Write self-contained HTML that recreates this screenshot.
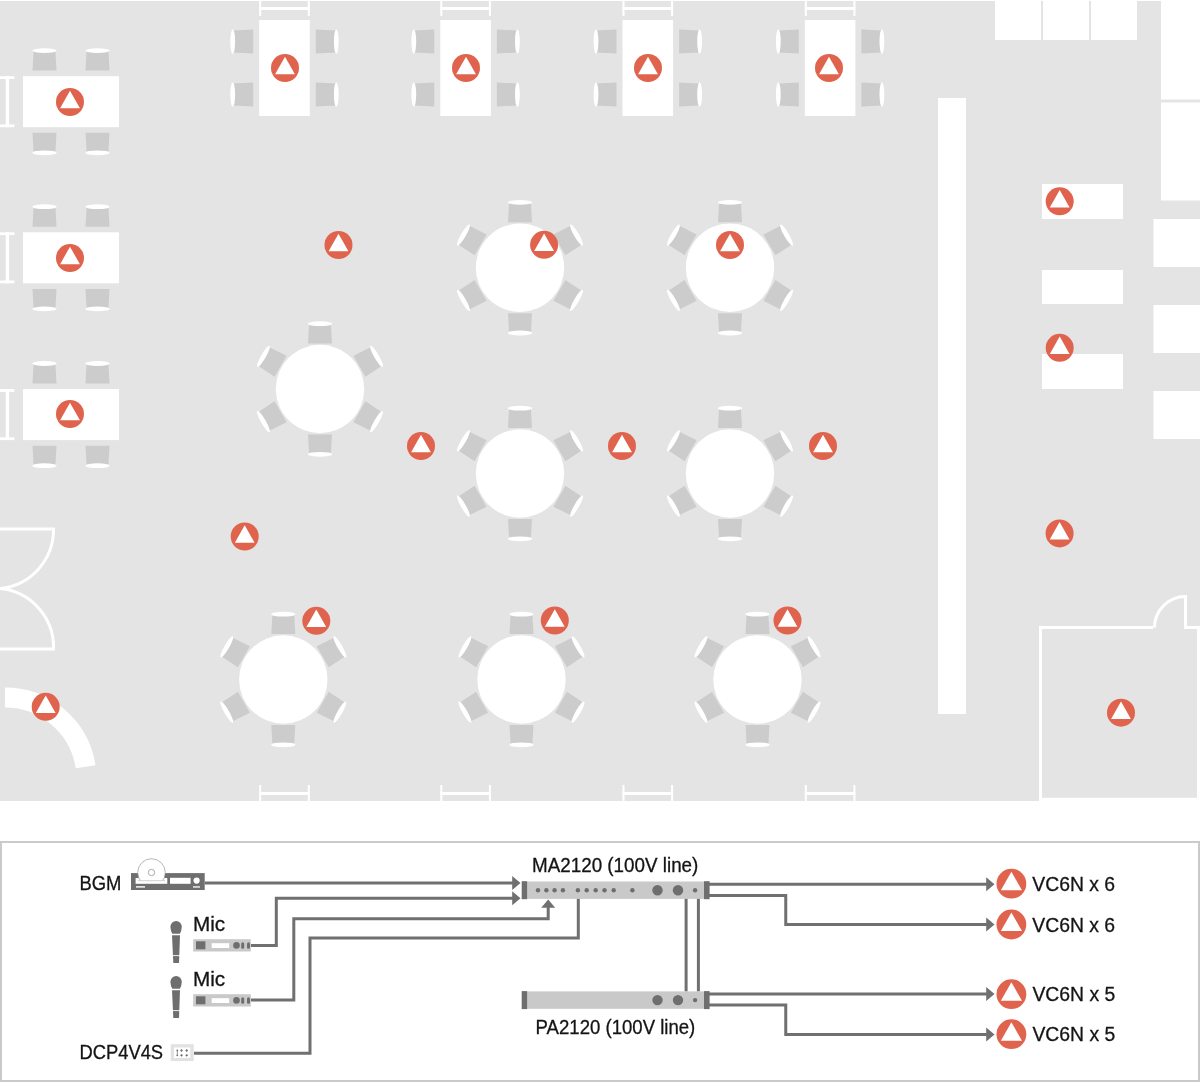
<!DOCTYPE html>
<html><head><meta charset="utf-8"><style>
html,body{margin:0;padding:0;background:#fff;}
svg{display:block;font-family:"Liberation Sans",sans-serif;}
text{will-change:transform;}
</style></head><body>
<svg width="1200" height="1082" viewBox="0 0 1200 1082">
<rect x="0" y="1" width="1200" height="800" fill="#e4e4e4"/>
<rect x="995" y="0" width="46" height="40" fill="#fff"/>
<rect x="1043" y="0" width="46" height="40" fill="#fff"/>
<rect x="1091" y="0" width="46" height="40" fill="#fff"/>
<rect x="1161" y="0" width="39" height="99.5" fill="#fff"/>
<rect x="1161" y="102.5" width="39" height="98" fill="#fff"/>
<rect x="1153.5" y="219" width="46.5" height="48" fill="#fff"/>
<rect x="1153.5" y="305" width="46.5" height="48" fill="#fff"/>
<rect x="1153.5" y="391" width="46.5" height="48" fill="#fff"/>
<rect x="1042" y="184" width="81" height="35" fill="#fff"/>
<rect x="1042" y="270" width="81" height="34" fill="#fff"/>
<rect x="1042" y="354" width="81" height="35" fill="#fff"/>
<rect x="938" y="98" width="28" height="616" fill="#fff"/>
<rect x="1039" y="626" width="3" height="175" fill="#fff"/>
<rect x="1039" y="626" width="114" height="3" fill="#fff"/>
<rect x="1184" y="626" width="16" height="3" fill="#fff"/>
<rect x="1197" y="626" width="3" height="175" fill="#fff"/>
<rect x="1042" y="797.8" width="158" height="3.2" fill="#fff"/>
<path d="M1154.5 627.5A31 31 0 0 1 1185.5 596.5L1185.5 627.5" fill="none" stroke="#fff" stroke-width="3"/>
<path d="M0 529L53.5 529A59 59 0 0 1 0 588.5A59 59 0 0 1 53.5 649L0 649" fill="none" stroke="#fff" stroke-width="3"/>
<path d="M5 697.5A81.5 81.5 0 0 1 85.56 766.67" fill="none" stroke="#fff" stroke-width="20"/>
<g transform="translate(44.5 100.7) rotate(0)"><path d="M-12 -30.1L12 -30.1L10.9 -50.1L-10.9 -50.1Z" fill="#cccccc"/><ellipse cx="0" cy="-50.1" rx="12.2" ry="2.4" fill="#fff"/></g>
<g transform="translate(44.5 100.7) rotate(180)"><path d="M-12 -32.1L12 -32.1L10.9 -52.1L-10.9 -52.1Z" fill="#cccccc"/><ellipse cx="0" cy="-52.1" rx="12.2" ry="2.4" fill="#fff"/></g>
<g transform="translate(97.5 100.7) rotate(0)"><path d="M-12 -30.1L12 -30.1L10.9 -50.1L-10.9 -50.1Z" fill="#cccccc"/><ellipse cx="0" cy="-50.1" rx="12.2" ry="2.4" fill="#fff"/></g>
<g transform="translate(97.5 100.7) rotate(180)"><path d="M-12 -32.1L12 -32.1L10.9 -52.1L-10.9 -52.1Z" fill="#cccccc"/><ellipse cx="0" cy="-52.1" rx="12.2" ry="2.4" fill="#fff"/></g>
<rect x="23" y="76.2" width="96" height="51" fill="#fff"/>
<rect x="0" y="76.2" width="14.4" height="2.8" fill="#fff"/>
<rect x="0" y="124.4" width="14.4" height="2.8" fill="#fff"/>
<rect x="5.7" y="76.2" width="3.4" height="51" fill="#fff"/>
<g transform="translate(44.5 256.8) rotate(0)"><path d="M-12 -30.1L12 -30.1L10.9 -50.1L-10.9 -50.1Z" fill="#cccccc"/><ellipse cx="0" cy="-50.1" rx="12.2" ry="2.4" fill="#fff"/></g>
<g transform="translate(44.5 256.8) rotate(180)"><path d="M-12 -32.1L12 -32.1L10.9 -52.1L-10.9 -52.1Z" fill="#cccccc"/><ellipse cx="0" cy="-52.1" rx="12.2" ry="2.4" fill="#fff"/></g>
<g transform="translate(97.5 256.8) rotate(0)"><path d="M-12 -30.1L12 -30.1L10.9 -50.1L-10.9 -50.1Z" fill="#cccccc"/><ellipse cx="0" cy="-50.1" rx="12.2" ry="2.4" fill="#fff"/></g>
<g transform="translate(97.5 256.8) rotate(180)"><path d="M-12 -32.1L12 -32.1L10.9 -52.1L-10.9 -52.1Z" fill="#cccccc"/><ellipse cx="0" cy="-52.1" rx="12.2" ry="2.4" fill="#fff"/></g>
<rect x="23" y="232.3" width="96" height="51" fill="#fff"/>
<rect x="0" y="232.3" width="14.4" height="2.8" fill="#fff"/>
<rect x="0" y="280.5" width="14.4" height="2.8" fill="#fff"/>
<rect x="5.7" y="232.3" width="3.4" height="51" fill="#fff"/>
<g transform="translate(44.5 413.6) rotate(0)"><path d="M-12 -30.1L12 -30.1L10.9 -50.1L-10.9 -50.1Z" fill="#cccccc"/><ellipse cx="0" cy="-50.1" rx="12.2" ry="2.4" fill="#fff"/></g>
<g transform="translate(44.5 413.6) rotate(180)"><path d="M-12 -32.1L12 -32.1L10.9 -52.1L-10.9 -52.1Z" fill="#cccccc"/><ellipse cx="0" cy="-52.1" rx="12.2" ry="2.4" fill="#fff"/></g>
<g transform="translate(97.5 413.6) rotate(0)"><path d="M-12 -30.1L12 -30.1L10.9 -50.1L-10.9 -50.1Z" fill="#cccccc"/><ellipse cx="0" cy="-50.1" rx="12.2" ry="2.4" fill="#fff"/></g>
<g transform="translate(97.5 413.6) rotate(180)"><path d="M-12 -32.1L12 -32.1L10.9 -52.1L-10.9 -52.1Z" fill="#cccccc"/><ellipse cx="0" cy="-52.1" rx="12.2" ry="2.4" fill="#fff"/></g>
<rect x="23" y="389.1" width="96" height="51" fill="#fff"/>
<rect x="0" y="389.1" width="14.4" height="2.8" fill="#fff"/>
<rect x="0" y="437.3" width="14.4" height="2.8" fill="#fff"/>
<rect x="5.7" y="389.1" width="3.4" height="51" fill="#fff"/>
<rect x="259.2" y="1" width="2" height="15" fill="#fff"/>
<rect x="307.8" y="1" width="2" height="15" fill="#fff"/>
<rect x="259.2" y="7.0" width="50.60000000000002" height="3" fill="#fff"/>
<g transform="translate(284.5 41.5) rotate(270)"><path d="M-12 -31.3L12 -31.3L10.9 -51.8L-10.9 -51.8Z" fill="#cccccc"/><ellipse cx="0" cy="-51.8" rx="12.2" ry="2.4" fill="#fff"/></g>
<g transform="translate(284.5 41.5) rotate(90)"><path d="M-12 -31.3L12 -31.3L10.9 -51.8L-10.9 -51.8Z" fill="#cccccc"/><ellipse cx="0" cy="-51.8" rx="12.2" ry="2.4" fill="#fff"/></g>
<g transform="translate(284.5 94.5) rotate(270)"><path d="M-12 -31.3L12 -31.3L10.9 -51.8L-10.9 -51.8Z" fill="#cccccc"/><ellipse cx="0" cy="-51.8" rx="12.2" ry="2.4" fill="#fff"/></g>
<g transform="translate(284.5 94.5) rotate(90)"><path d="M-12 -31.3L12 -31.3L10.9 -51.8L-10.9 -51.8Z" fill="#cccccc"/><ellipse cx="0" cy="-51.8" rx="12.2" ry="2.4" fill="#fff"/></g>
<rect x="259.2" y="20" width="50.6" height="96" fill="#fff"/>
<rect x="440.3" y="1" width="2" height="15" fill="#fff"/>
<rect x="488.90000000000003" y="1" width="2" height="15" fill="#fff"/>
<rect x="440.3" y="7.0" width="50.60000000000002" height="3" fill="#fff"/>
<g transform="translate(465.6 41.5) rotate(270)"><path d="M-12 -31.3L12 -31.3L10.9 -51.8L-10.9 -51.8Z" fill="#cccccc"/><ellipse cx="0" cy="-51.8" rx="12.2" ry="2.4" fill="#fff"/></g>
<g transform="translate(465.6 41.5) rotate(90)"><path d="M-12 -31.3L12 -31.3L10.9 -51.8L-10.9 -51.8Z" fill="#cccccc"/><ellipse cx="0" cy="-51.8" rx="12.2" ry="2.4" fill="#fff"/></g>
<g transform="translate(465.6 94.5) rotate(270)"><path d="M-12 -31.3L12 -31.3L10.9 -51.8L-10.9 -51.8Z" fill="#cccccc"/><ellipse cx="0" cy="-51.8" rx="12.2" ry="2.4" fill="#fff"/></g>
<g transform="translate(465.6 94.5) rotate(90)"><path d="M-12 -31.3L12 -31.3L10.9 -51.8L-10.9 -51.8Z" fill="#cccccc"/><ellipse cx="0" cy="-51.8" rx="12.2" ry="2.4" fill="#fff"/></g>
<rect x="440.3" y="20" width="50.6" height="96" fill="#fff"/>
<rect x="622.5" y="1" width="2" height="15" fill="#fff"/>
<rect x="671.1" y="1" width="2" height="15" fill="#fff"/>
<rect x="622.5" y="7.0" width="50.60000000000002" height="3" fill="#fff"/>
<g transform="translate(647.8 41.5) rotate(270)"><path d="M-12 -31.3L12 -31.3L10.9 -51.8L-10.9 -51.8Z" fill="#cccccc"/><ellipse cx="0" cy="-51.8" rx="12.2" ry="2.4" fill="#fff"/></g>
<g transform="translate(647.8 41.5) rotate(90)"><path d="M-12 -31.3L12 -31.3L10.9 -51.8L-10.9 -51.8Z" fill="#cccccc"/><ellipse cx="0" cy="-51.8" rx="12.2" ry="2.4" fill="#fff"/></g>
<g transform="translate(647.8 94.5) rotate(270)"><path d="M-12 -31.3L12 -31.3L10.9 -51.8L-10.9 -51.8Z" fill="#cccccc"/><ellipse cx="0" cy="-51.8" rx="12.2" ry="2.4" fill="#fff"/></g>
<g transform="translate(647.8 94.5) rotate(90)"><path d="M-12 -31.3L12 -31.3L10.9 -51.8L-10.9 -51.8Z" fill="#cccccc"/><ellipse cx="0" cy="-51.8" rx="12.2" ry="2.4" fill="#fff"/></g>
<rect x="622.5" y="20" width="50.6" height="96" fill="#fff"/>
<rect x="804.8" y="1" width="2" height="15" fill="#fff"/>
<rect x="853.4" y="1" width="2" height="15" fill="#fff"/>
<rect x="804.8" y="7.0" width="50.60000000000002" height="3" fill="#fff"/>
<g transform="translate(830.0999999999999 41.5) rotate(270)"><path d="M-12 -31.3L12 -31.3L10.9 -51.8L-10.9 -51.8Z" fill="#cccccc"/><ellipse cx="0" cy="-51.8" rx="12.2" ry="2.4" fill="#fff"/></g>
<g transform="translate(830.0999999999999 41.5) rotate(90)"><path d="M-12 -31.3L12 -31.3L10.9 -51.8L-10.9 -51.8Z" fill="#cccccc"/><ellipse cx="0" cy="-51.8" rx="12.2" ry="2.4" fill="#fff"/></g>
<g transform="translate(830.0999999999999 94.5) rotate(270)"><path d="M-12 -31.3L12 -31.3L10.9 -51.8L-10.9 -51.8Z" fill="#cccccc"/><ellipse cx="0" cy="-51.8" rx="12.2" ry="2.4" fill="#fff"/></g>
<g transform="translate(830.0999999999999 94.5) rotate(90)"><path d="M-12 -31.3L12 -31.3L10.9 -51.8L-10.9 -51.8Z" fill="#cccccc"/><ellipse cx="0" cy="-51.8" rx="12.2" ry="2.4" fill="#fff"/></g>
<rect x="804.8" y="20" width="50.6" height="96" fill="#fff"/>
<rect x="259.2" y="785" width="2" height="16" fill="#fff"/>
<rect x="307.8" y="785" width="2" height="16" fill="#fff"/>
<rect x="259.2" y="792.0" width="50.60000000000002" height="3" fill="#fff"/>
<rect x="440.3" y="785" width="2" height="16" fill="#fff"/>
<rect x="488.90000000000003" y="785" width="2" height="16" fill="#fff"/>
<rect x="440.3" y="792.0" width="50.60000000000002" height="3" fill="#fff"/>
<rect x="622.5" y="785" width="2" height="16" fill="#fff"/>
<rect x="671.1" y="785" width="2" height="16" fill="#fff"/>
<rect x="622.5" y="792.0" width="50.60000000000002" height="3" fill="#fff"/>
<rect x="804.8" y="785" width="2" height="16" fill="#fff"/>
<rect x="853.4" y="785" width="2" height="16" fill="#fff"/>
<rect x="804.8" y="792.0" width="50.60000000000002" height="3" fill="#fff"/>
<g transform="translate(520 267.7) rotate(0)"><path d="M-12 -45.5L12 -45.5L10.9 -65.3L-10.9 -65.3Z" fill="#cccccc"/><ellipse cx="0" cy="-65.3" rx="12.2" ry="2.4" fill="#fff"/></g>
<g transform="translate(520 267.7) rotate(60)"><path d="M-12 -45.5L12 -45.5L10.9 -65.3L-10.9 -65.3Z" fill="#cccccc"/><ellipse cx="0" cy="-65.3" rx="12.2" ry="2.4" fill="#fff"/></g>
<g transform="translate(520 267.7) rotate(120)"><path d="M-12 -45.5L12 -45.5L10.9 -65.3L-10.9 -65.3Z" fill="#cccccc"/><ellipse cx="0" cy="-65.3" rx="12.2" ry="2.4" fill="#fff"/></g>
<g transform="translate(520 267.7) rotate(180)"><path d="M-12 -45.5L12 -45.5L10.9 -65.3L-10.9 -65.3Z" fill="#cccccc"/><ellipse cx="0" cy="-65.3" rx="12.2" ry="2.4" fill="#fff"/></g>
<g transform="translate(520 267.7) rotate(240)"><path d="M-12 -45.5L12 -45.5L10.9 -65.3L-10.9 -65.3Z" fill="#cccccc"/><ellipse cx="0" cy="-65.3" rx="12.2" ry="2.4" fill="#fff"/></g>
<g transform="translate(520 267.7) rotate(300)"><path d="M-12 -45.5L12 -45.5L10.9 -65.3L-10.9 -65.3Z" fill="#cccccc"/><ellipse cx="0" cy="-65.3" rx="12.2" ry="2.4" fill="#fff"/></g>
<circle cx="520" cy="267.7" r="44.2" fill="#fff"/>
<g transform="translate(730 267.7) rotate(0)"><path d="M-12 -45.5L12 -45.5L10.9 -65.3L-10.9 -65.3Z" fill="#cccccc"/><ellipse cx="0" cy="-65.3" rx="12.2" ry="2.4" fill="#fff"/></g>
<g transform="translate(730 267.7) rotate(60)"><path d="M-12 -45.5L12 -45.5L10.9 -65.3L-10.9 -65.3Z" fill="#cccccc"/><ellipse cx="0" cy="-65.3" rx="12.2" ry="2.4" fill="#fff"/></g>
<g transform="translate(730 267.7) rotate(120)"><path d="M-12 -45.5L12 -45.5L10.9 -65.3L-10.9 -65.3Z" fill="#cccccc"/><ellipse cx="0" cy="-65.3" rx="12.2" ry="2.4" fill="#fff"/></g>
<g transform="translate(730 267.7) rotate(180)"><path d="M-12 -45.5L12 -45.5L10.9 -65.3L-10.9 -65.3Z" fill="#cccccc"/><ellipse cx="0" cy="-65.3" rx="12.2" ry="2.4" fill="#fff"/></g>
<g transform="translate(730 267.7) rotate(240)"><path d="M-12 -45.5L12 -45.5L10.9 -65.3L-10.9 -65.3Z" fill="#cccccc"/><ellipse cx="0" cy="-65.3" rx="12.2" ry="2.4" fill="#fff"/></g>
<g transform="translate(730 267.7) rotate(300)"><path d="M-12 -45.5L12 -45.5L10.9 -65.3L-10.9 -65.3Z" fill="#cccccc"/><ellipse cx="0" cy="-65.3" rx="12.2" ry="2.4" fill="#fff"/></g>
<circle cx="730" cy="267.7" r="44.2" fill="#fff"/>
<g transform="translate(320 389) rotate(0)"><path d="M-12 -45.5L12 -45.5L10.9 -65.3L-10.9 -65.3Z" fill="#cccccc"/><ellipse cx="0" cy="-65.3" rx="12.2" ry="2.4" fill="#fff"/></g>
<g transform="translate(320 389) rotate(60)"><path d="M-12 -45.5L12 -45.5L10.9 -65.3L-10.9 -65.3Z" fill="#cccccc"/><ellipse cx="0" cy="-65.3" rx="12.2" ry="2.4" fill="#fff"/></g>
<g transform="translate(320 389) rotate(120)"><path d="M-12 -45.5L12 -45.5L10.9 -65.3L-10.9 -65.3Z" fill="#cccccc"/><ellipse cx="0" cy="-65.3" rx="12.2" ry="2.4" fill="#fff"/></g>
<g transform="translate(320 389) rotate(180)"><path d="M-12 -45.5L12 -45.5L10.9 -65.3L-10.9 -65.3Z" fill="#cccccc"/><ellipse cx="0" cy="-65.3" rx="12.2" ry="2.4" fill="#fff"/></g>
<g transform="translate(320 389) rotate(240)"><path d="M-12 -45.5L12 -45.5L10.9 -65.3L-10.9 -65.3Z" fill="#cccccc"/><ellipse cx="0" cy="-65.3" rx="12.2" ry="2.4" fill="#fff"/></g>
<g transform="translate(320 389) rotate(300)"><path d="M-12 -45.5L12 -45.5L10.9 -65.3L-10.9 -65.3Z" fill="#cccccc"/><ellipse cx="0" cy="-65.3" rx="12.2" ry="2.4" fill="#fff"/></g>
<circle cx="320" cy="389" r="44.2" fill="#fff"/>
<g transform="translate(520 473.5) rotate(0)"><path d="M-12 -45.5L12 -45.5L10.9 -65.3L-10.9 -65.3Z" fill="#cccccc"/><ellipse cx="0" cy="-65.3" rx="12.2" ry="2.4" fill="#fff"/></g>
<g transform="translate(520 473.5) rotate(60)"><path d="M-12 -45.5L12 -45.5L10.9 -65.3L-10.9 -65.3Z" fill="#cccccc"/><ellipse cx="0" cy="-65.3" rx="12.2" ry="2.4" fill="#fff"/></g>
<g transform="translate(520 473.5) rotate(120)"><path d="M-12 -45.5L12 -45.5L10.9 -65.3L-10.9 -65.3Z" fill="#cccccc"/><ellipse cx="0" cy="-65.3" rx="12.2" ry="2.4" fill="#fff"/></g>
<g transform="translate(520 473.5) rotate(180)"><path d="M-12 -45.5L12 -45.5L10.9 -65.3L-10.9 -65.3Z" fill="#cccccc"/><ellipse cx="0" cy="-65.3" rx="12.2" ry="2.4" fill="#fff"/></g>
<g transform="translate(520 473.5) rotate(240)"><path d="M-12 -45.5L12 -45.5L10.9 -65.3L-10.9 -65.3Z" fill="#cccccc"/><ellipse cx="0" cy="-65.3" rx="12.2" ry="2.4" fill="#fff"/></g>
<g transform="translate(520 473.5) rotate(300)"><path d="M-12 -45.5L12 -45.5L10.9 -65.3L-10.9 -65.3Z" fill="#cccccc"/><ellipse cx="0" cy="-65.3" rx="12.2" ry="2.4" fill="#fff"/></g>
<circle cx="520" cy="473.5" r="44.2" fill="#fff"/>
<g transform="translate(730 473.5) rotate(0)"><path d="M-12 -45.5L12 -45.5L10.9 -65.3L-10.9 -65.3Z" fill="#cccccc"/><ellipse cx="0" cy="-65.3" rx="12.2" ry="2.4" fill="#fff"/></g>
<g transform="translate(730 473.5) rotate(60)"><path d="M-12 -45.5L12 -45.5L10.9 -65.3L-10.9 -65.3Z" fill="#cccccc"/><ellipse cx="0" cy="-65.3" rx="12.2" ry="2.4" fill="#fff"/></g>
<g transform="translate(730 473.5) rotate(120)"><path d="M-12 -45.5L12 -45.5L10.9 -65.3L-10.9 -65.3Z" fill="#cccccc"/><ellipse cx="0" cy="-65.3" rx="12.2" ry="2.4" fill="#fff"/></g>
<g transform="translate(730 473.5) rotate(180)"><path d="M-12 -45.5L12 -45.5L10.9 -65.3L-10.9 -65.3Z" fill="#cccccc"/><ellipse cx="0" cy="-65.3" rx="12.2" ry="2.4" fill="#fff"/></g>
<g transform="translate(730 473.5) rotate(240)"><path d="M-12 -45.5L12 -45.5L10.9 -65.3L-10.9 -65.3Z" fill="#cccccc"/><ellipse cx="0" cy="-65.3" rx="12.2" ry="2.4" fill="#fff"/></g>
<g transform="translate(730 473.5) rotate(300)"><path d="M-12 -45.5L12 -45.5L10.9 -65.3L-10.9 -65.3Z" fill="#cccccc"/><ellipse cx="0" cy="-65.3" rx="12.2" ry="2.4" fill="#fff"/></g>
<circle cx="730" cy="473.5" r="44.2" fill="#fff"/>
<g transform="translate(283.3 679.5) rotate(0)"><path d="M-12 -45.5L12 -45.5L10.9 -65.3L-10.9 -65.3Z" fill="#cccccc"/><ellipse cx="0" cy="-65.3" rx="12.2" ry="2.4" fill="#fff"/></g>
<g transform="translate(283.3 679.5) rotate(60)"><path d="M-12 -45.5L12 -45.5L10.9 -65.3L-10.9 -65.3Z" fill="#cccccc"/><ellipse cx="0" cy="-65.3" rx="12.2" ry="2.4" fill="#fff"/></g>
<g transform="translate(283.3 679.5) rotate(120)"><path d="M-12 -45.5L12 -45.5L10.9 -65.3L-10.9 -65.3Z" fill="#cccccc"/><ellipse cx="0" cy="-65.3" rx="12.2" ry="2.4" fill="#fff"/></g>
<g transform="translate(283.3 679.5) rotate(180)"><path d="M-12 -45.5L12 -45.5L10.9 -65.3L-10.9 -65.3Z" fill="#cccccc"/><ellipse cx="0" cy="-65.3" rx="12.2" ry="2.4" fill="#fff"/></g>
<g transform="translate(283.3 679.5) rotate(240)"><path d="M-12 -45.5L12 -45.5L10.9 -65.3L-10.9 -65.3Z" fill="#cccccc"/><ellipse cx="0" cy="-65.3" rx="12.2" ry="2.4" fill="#fff"/></g>
<g transform="translate(283.3 679.5) rotate(300)"><path d="M-12 -45.5L12 -45.5L10.9 -65.3L-10.9 -65.3Z" fill="#cccccc"/><ellipse cx="0" cy="-65.3" rx="12.2" ry="2.4" fill="#fff"/></g>
<circle cx="283.3" cy="679.5" r="44.2" fill="#fff"/>
<g transform="translate(521.5 679.5) rotate(0)"><path d="M-12 -45.5L12 -45.5L10.9 -65.3L-10.9 -65.3Z" fill="#cccccc"/><ellipse cx="0" cy="-65.3" rx="12.2" ry="2.4" fill="#fff"/></g>
<g transform="translate(521.5 679.5) rotate(60)"><path d="M-12 -45.5L12 -45.5L10.9 -65.3L-10.9 -65.3Z" fill="#cccccc"/><ellipse cx="0" cy="-65.3" rx="12.2" ry="2.4" fill="#fff"/></g>
<g transform="translate(521.5 679.5) rotate(120)"><path d="M-12 -45.5L12 -45.5L10.9 -65.3L-10.9 -65.3Z" fill="#cccccc"/><ellipse cx="0" cy="-65.3" rx="12.2" ry="2.4" fill="#fff"/></g>
<g transform="translate(521.5 679.5) rotate(180)"><path d="M-12 -45.5L12 -45.5L10.9 -65.3L-10.9 -65.3Z" fill="#cccccc"/><ellipse cx="0" cy="-65.3" rx="12.2" ry="2.4" fill="#fff"/></g>
<g transform="translate(521.5 679.5) rotate(240)"><path d="M-12 -45.5L12 -45.5L10.9 -65.3L-10.9 -65.3Z" fill="#cccccc"/><ellipse cx="0" cy="-65.3" rx="12.2" ry="2.4" fill="#fff"/></g>
<g transform="translate(521.5 679.5) rotate(300)"><path d="M-12 -45.5L12 -45.5L10.9 -65.3L-10.9 -65.3Z" fill="#cccccc"/><ellipse cx="0" cy="-65.3" rx="12.2" ry="2.4" fill="#fff"/></g>
<circle cx="521.5" cy="679.5" r="44.2" fill="#fff"/>
<g transform="translate(757.5 679.5) rotate(0)"><path d="M-12 -45.5L12 -45.5L10.9 -65.3L-10.9 -65.3Z" fill="#cccccc"/><ellipse cx="0" cy="-65.3" rx="12.2" ry="2.4" fill="#fff"/></g>
<g transform="translate(757.5 679.5) rotate(60)"><path d="M-12 -45.5L12 -45.5L10.9 -65.3L-10.9 -65.3Z" fill="#cccccc"/><ellipse cx="0" cy="-65.3" rx="12.2" ry="2.4" fill="#fff"/></g>
<g transform="translate(757.5 679.5) rotate(120)"><path d="M-12 -45.5L12 -45.5L10.9 -65.3L-10.9 -65.3Z" fill="#cccccc"/><ellipse cx="0" cy="-65.3" rx="12.2" ry="2.4" fill="#fff"/></g>
<g transform="translate(757.5 679.5) rotate(180)"><path d="M-12 -45.5L12 -45.5L10.9 -65.3L-10.9 -65.3Z" fill="#cccccc"/><ellipse cx="0" cy="-65.3" rx="12.2" ry="2.4" fill="#fff"/></g>
<g transform="translate(757.5 679.5) rotate(240)"><path d="M-12 -45.5L12 -45.5L10.9 -65.3L-10.9 -65.3Z" fill="#cccccc"/><ellipse cx="0" cy="-65.3" rx="12.2" ry="2.4" fill="#fff"/></g>
<g transform="translate(757.5 679.5) rotate(300)"><path d="M-12 -45.5L12 -45.5L10.9 -65.3L-10.9 -65.3Z" fill="#cccccc"/><ellipse cx="0" cy="-65.3" rx="12.2" ry="2.4" fill="#fff"/></g>
<circle cx="757.5" cy="679.5" r="44.2" fill="#fff"/>
<circle cx="70" cy="102" r="14" fill="#e0634d"/>
<path d="M70.00 90.70L79.90 108.20L60.10 108.20Z" fill="#fff"/>
<circle cx="70" cy="258" r="14" fill="#e0634d"/>
<path d="M70.00 246.70L79.90 264.20L60.10 264.20Z" fill="#fff"/>
<circle cx="70" cy="414" r="14" fill="#e0634d"/>
<path d="M70.00 402.70L79.90 420.20L60.10 420.20Z" fill="#fff"/>
<circle cx="285" cy="68" r="14" fill="#e0634d"/>
<path d="M285.00 56.70L294.90 74.20L275.10 74.20Z" fill="#fff"/>
<circle cx="466" cy="68" r="14" fill="#e0634d"/>
<path d="M466.00 56.70L475.90 74.20L456.10 74.20Z" fill="#fff"/>
<circle cx="648" cy="68" r="14" fill="#e0634d"/>
<path d="M648.00 56.70L657.90 74.20L638.10 74.20Z" fill="#fff"/>
<circle cx="829" cy="68" r="14" fill="#e0634d"/>
<path d="M829.00 56.70L838.90 74.20L819.10 74.20Z" fill="#fff"/>
<circle cx="338.5" cy="245" r="14" fill="#e0634d"/>
<path d="M338.50 233.70L348.40 251.20L328.60 251.20Z" fill="#fff"/>
<circle cx="544.1" cy="244.8" r="14" fill="#e0634d"/>
<path d="M544.10 233.50L554.00 251.00L534.20 251.00Z" fill="#fff"/>
<circle cx="730" cy="245" r="14" fill="#e0634d"/>
<path d="M730.00 233.70L739.90 251.20L720.10 251.20Z" fill="#fff"/>
<circle cx="421" cy="446" r="14" fill="#e0634d"/>
<path d="M421.00 434.70L430.90 452.20L411.10 452.20Z" fill="#fff"/>
<circle cx="622" cy="446" r="14" fill="#e0634d"/>
<path d="M622.00 434.70L631.90 452.20L612.10 452.20Z" fill="#fff"/>
<circle cx="823" cy="446" r="14" fill="#e0634d"/>
<path d="M823.00 434.70L832.90 452.20L813.10 452.20Z" fill="#fff"/>
<circle cx="244.7" cy="536.5" r="14" fill="#e0634d"/>
<path d="M244.70 525.20L254.60 542.70L234.80 542.70Z" fill="#fff"/>
<circle cx="316.3" cy="620.8" r="14" fill="#e0634d"/>
<path d="M316.30 609.50L326.20 627.00L306.40 627.00Z" fill="#fff"/>
<circle cx="554.8" cy="620.5" r="14" fill="#e0634d"/>
<path d="M554.80 609.20L564.70 626.70L544.90 626.70Z" fill="#fff"/>
<circle cx="787.5" cy="620.5" r="14" fill="#e0634d"/>
<path d="M787.50 609.20L797.40 626.70L777.60 626.70Z" fill="#fff"/>
<circle cx="45.7" cy="706.8" r="14" fill="#e0634d"/>
<path d="M45.70 695.50L55.60 713.00L35.80 713.00Z" fill="#fff"/>
<circle cx="1059.7" cy="201.3" r="14" fill="#e0634d"/>
<path d="M1059.70 190.00L1069.60 207.50L1049.80 207.50Z" fill="#fff"/>
<circle cx="1059.7" cy="347.8" r="14" fill="#e0634d"/>
<path d="M1059.70 336.50L1069.60 354.00L1049.80 354.00Z" fill="#fff"/>
<circle cx="1059.6" cy="533.4" r="14" fill="#e0634d"/>
<path d="M1059.60 522.10L1069.50 539.60L1049.70 539.60Z" fill="#fff"/>
<circle cx="1121" cy="712.7" r="14" fill="#e0634d"/>
<path d="M1121.00 701.40L1130.90 718.90L1111.10 718.90Z" fill="#fff"/>
<rect x="1" y="842" width="1198" height="239" fill="none" stroke="#cacaca" stroke-width="2"/>
<text x="79.511" y="889.9" font-size="20" textLength="41.954" lengthAdjust="spacingAndGlyphs" fill="#141414" stroke="#141414" stroke-width="0.3">BGM</text>
<text x="193.03" y="930.8" font-size="20" textLength="32.219" lengthAdjust="spacingAndGlyphs" fill="#141414" stroke="#141414" stroke-width="0.3">Mic</text>
<text x="193.03" y="985.8" font-size="20" textLength="32.219" lengthAdjust="spacingAndGlyphs" fill="#141414" stroke="#141414" stroke-width="0.3">Mic</text>
<text x="79.473" y="1058.5" font-size="20" textLength="83.631" lengthAdjust="spacingAndGlyphs" fill="#141414" stroke="#141414" stroke-width="0.3">DCP4V4S</text>
<text x="532.062" y="871.8" font-size="20" textLength="166.289" lengthAdjust="spacingAndGlyphs" fill="#141414" stroke="#141414" stroke-width="0.3">MA2120 (100V line)</text>
<text x="535.596" y="1033.8" font-size="20" textLength="159.686" lengthAdjust="spacingAndGlyphs" fill="#141414" stroke="#141414" stroke-width="0.3">PA2120 (100V line)</text>
<text x="1032.305" y="890.7" font-size="20" textLength="82.844" lengthAdjust="spacingAndGlyphs" fill="#141414" stroke="#141414" stroke-width="0.3">VC6N x 6</text>
<text x="1032.305" y="931.5" font-size="20" textLength="82.844" lengthAdjust="spacingAndGlyphs" fill="#141414" stroke="#141414" stroke-width="0.3">VC6N x 6</text>
<text x="1032.394" y="1000.9" font-size="20" textLength="82.908" lengthAdjust="spacingAndGlyphs" fill="#141414" stroke="#141414" stroke-width="0.3">VC6N x 5</text>
<text x="1032.394" y="1040.8" font-size="20" textLength="82.908" lengthAdjust="spacingAndGlyphs" fill="#141414" stroke="#141414" stroke-width="0.3">VC6N x 5</text>
<path d="M204.7 882.9L514 882.9" fill="none" stroke="#707070" stroke-width="3" stroke-linejoin="miter"/>
<path d="M520.5 882.9L512.2 875.9L512.2 889.9Z" fill="#707070"/>
<path d="M250.8 945.4L276.3 945.4L276.3 898.2L514 898.2" fill="none" stroke="#707070" stroke-width="3" stroke-linejoin="miter"/>
<path d="M520.5 898.2L512.2 891.2L512.2 905.2Z" fill="#707070"/>
<path d="M250.8 1000L293.8 1000L293.8 918.8L548.2 918.8L548.2 907" fill="none" stroke="#707070" stroke-width="3" stroke-linejoin="miter"/>
<path d="M548.2 899.5L541.2 907.8L555.2 907.8Z" fill="#707070"/>
<path d="M194 1053.2L310 1053.2L310 938L578.3 938L578.3 898" fill="none" stroke="#707070" stroke-width="3" stroke-linejoin="miter"/>
<path d="M686.1 898L686.1 991.5" fill="none" stroke="#707070" stroke-width="3" stroke-linejoin="miter"/>
<path d="M698.4 898L698.4 991.5" fill="none" stroke="#707070" stroke-width="3" stroke-linejoin="miter"/>
<path d="M709 884.3L988 884.3" fill="none" stroke="#707070" stroke-width="3" stroke-linejoin="miter"/>
<path d="M994.5 884.3L986.2 877.3L986.2 891.3Z" fill="#707070"/>
<path d="M709 895.5L785.75 895.5L785.75 924.4L988 924.4" fill="none" stroke="#707070" stroke-width="3" stroke-linejoin="miter"/>
<path d="M994.5 924.4L986.2 917.4L986.2 931.4Z" fill="#707070"/>
<path d="M709 994.1L988 994.1" fill="none" stroke="#707070" stroke-width="3" stroke-linejoin="miter"/>
<path d="M994.5 994.1L986.2 987.1L986.2 1001.1Z" fill="#707070"/>
<path d="M709 1005L785.75 1005L785.75 1034.4L988 1034.4" fill="none" stroke="#707070" stroke-width="3" stroke-linejoin="miter"/>
<path d="M994.5 1034.4L986.2 1027.4L986.2 1041.4Z" fill="#707070"/>
<circle cx="1011.4" cy="883.7" r="14.9" fill="#e0634d"/>
<path d="M1011.40 871.67L1021.94 890.30L1000.86 890.30Z" fill="#fff"/>
<circle cx="1011.4" cy="924.5" r="14.9" fill="#e0634d"/>
<path d="M1011.40 912.47L1021.94 931.10L1000.86 931.10Z" fill="#fff"/>
<circle cx="1011.4" cy="994.2" r="14.9" fill="#e0634d"/>
<path d="M1011.40 982.17L1021.94 1000.80L1000.86 1000.80Z" fill="#fff"/>
<circle cx="1011.4" cy="1034.2" r="14.9" fill="#e0634d"/>
<path d="M1011.40 1022.17L1021.94 1040.80L1000.86 1040.80Z" fill="#fff"/>
<rect x="527" y="881.5" width="177" height="17.4" fill="#c9c9c9"/>
<rect x="521.7" y="881.2" width="5.4" height="18" fill="#6e6e6e"/>
<rect x="704" y="881.2" width="5.6" height="18" fill="#6e6e6e"/>
<circle cx="538" cy="890.2" r="2.2" fill="#6e6e6e"/>
<circle cx="546.4" cy="890.2" r="2.2" fill="#6e6e6e"/>
<circle cx="554.6" cy="890.2" r="2.2" fill="#6e6e6e"/>
<circle cx="562.9" cy="890.2" r="2.2" fill="#6e6e6e"/>
<circle cx="577.9" cy="890.2" r="2.2" fill="#6e6e6e"/>
<circle cx="586.7" cy="890.2" r="2.2" fill="#6e6e6e"/>
<circle cx="595.7" cy="890.2" r="2.2" fill="#6e6e6e"/>
<circle cx="604.5" cy="890.2" r="2.2" fill="#6e6e6e"/>
<circle cx="613.7" cy="890.2" r="2.2" fill="#6e6e6e"/>
<circle cx="632.4" cy="890.2" r="2.2" fill="#6e6e6e"/>
<circle cx="657.5" cy="890.2" r="5.2" fill="#6e6e6e"/>
<circle cx="678" cy="890.2" r="5.2" fill="#6e6e6e"/>
<circle cx="695.1" cy="890.2" r="2.2" fill="#6e6e6e"/>
<rect x="527" y="991.4" width="177" height="17.4" fill="#c9c9c9"/>
<rect x="521.7" y="991.1" width="5.4" height="18" fill="#6e6e6e"/>
<rect x="704" y="991.1" width="5.6" height="18" fill="#6e6e6e"/>
<circle cx="657.5" cy="1000.1" r="5.2" fill="#6e6e6e"/>
<circle cx="678" cy="1000.1" r="5.2" fill="#6e6e6e"/>
<circle cx="695.1" cy="1000.1" r="2.2" fill="#6e6e6e"/>
<rect x="131" y="873.1" width="73.7" height="16.9" fill="#6e6e6e"/>
<rect x="135.6" y="878" width="31.7" height="5.8" fill="#fff"/>
<rect x="170" y="877.8" width="20.6" height="6" fill="#fff"/>
<circle cx="196.6" cy="880.6" r="3.1" fill="#fff"/>
<rect x="136" y="886.2" width="9" height="1.4" fill="#fff"/>
<rect x="193" y="886.3" width="7" height="1.3" fill="#fff"/>
<clipPath id="cdc"><rect x="120" y="850" width="60" height="30.8"/></clipPath>
<g clip-path="url(#cdc)"><circle cx="151.5" cy="872.5" r="13.8" fill="#fff" stroke="#9a9a9a" stroke-width="0.7"/><circle cx="151.5" cy="872.5" r="3.2" fill="none" stroke="#8a8a8a" stroke-width="0.7"/></g>
<rect x="138" y="880.2" width="27" height="1" fill="#d0d0d0"/>
<path d="M170.4 926.8A5.7 5.9 0 0 1 181.8 926.8Q181.6 931.6 179.8 933.8L172.4 933.8Q170.6 931.6 170.4 926.8Z" fill="#6e6e6e"/>
<path d="M172 935.3L180 935.3L179 963L173.3 963Z" fill="#6e6e6e"/>
<rect x="170" y="934" width="12" height="1" fill="#fff"/>
<rect x="170" y="955.2" width="12" height="0.9" fill="#fff"/>
<rect x="193.2" y="939.2" width="57.6" height="12.3" fill="#c9c9c9"/>
<rect x="196" y="941.3" width="9.4" height="8" fill="#6e6e6e"/>
<rect x="211.7" y="943.2" width="17.5" height="4.8" fill="#fff"/>
<circle cx="236.5" cy="945.4" r="3.3" fill="#6e6e6e"/>
<rect x="241.2" y="942.3" width="3" height="6.4" rx="1.5" fill="#6e6e6e"/>
<rect x="247" y="942.3" width="3" height="6.4" rx="1.5" fill="#6e6e6e"/>
<path d="M170.4 981.8A5.7 5.9 0 0 1 181.8 981.8Q181.6 986.6 179.8 988.8L172.4 988.8Q170.6 986.6 170.4 981.8Z" fill="#6e6e6e"/>
<path d="M172 990.3L180 990.3L179 1018L173.3 1018Z" fill="#6e6e6e"/>
<rect x="170" y="989" width="12" height="1" fill="#fff"/>
<rect x="170" y="1010.2" width="12" height="0.9" fill="#fff"/>
<rect x="193.2" y="994.2" width="57.6" height="12.3" fill="#c9c9c9"/>
<rect x="196" y="996.3" width="9.4" height="8" fill="#6e6e6e"/>
<rect x="211.7" y="998.2" width="17.5" height="4.8" fill="#fff"/>
<circle cx="236.5" cy="1000.4" r="3.3" fill="#6e6e6e"/>
<rect x="241.2" y="997.3" width="3" height="6.4" rx="1.5" fill="#6e6e6e"/>
<rect x="247" y="997.3" width="3" height="6.4" rx="1.5" fill="#6e6e6e"/>
<rect x="170.7" y="1044.2" width="23" height="16.8" fill="#e2e2e2"/>
<rect x="174" y="1047.5" width="16.3" height="10.5" fill="#fff"/>
<path d="M177.3 1050.2V1055.4" stroke="#6e6e6e" stroke-width="0.7"/>
<circle cx="177.3" cy="1050.3" r="0.9" fill="#6e6e6e"/><circle cx="177.3" cy="1055.3" r="0.9" fill="#6e6e6e"/>
<path d="M180.1 1050.5L181.5 1049.1L182.9 1050.5L181.5 1051.9Z" fill="#6e6e6e"/>
<path d="M180.1 1055.3L181.5 1053.8999999999999L182.9 1055.3L181.5 1056.7Z" fill="#6e6e6e"/>
<path d="M185.29999999999998 1050.5L186.7 1049.1L188.1 1050.5L186.7 1051.9Z" fill="#6e6e6e"/>
<path d="M185.29999999999998 1055.3L186.7 1053.8999999999999L188.1 1055.3L186.7 1056.7Z" fill="#6e6e6e"/>
</svg>
</body></html>
